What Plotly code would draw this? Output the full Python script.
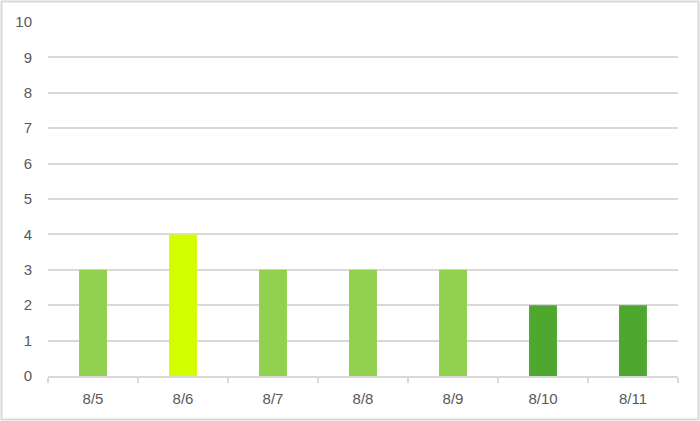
import plotly.graph_objects as go

categories = ["8/5", "8/6", "8/7", "8/8", "8/9", "8/10", "8/11"]
values = [3, 4, 3, 3, 3, 2, 2]
colors = ["#92D050", "#D2FF00", "#92D050", "#92D050", "#92D050", "#4EA72E", "#4EA72E"]
y_ticks = list(range(0, 11))

W, H = 700, 421
L, R, T, B = 48, 22, 22, 45
pw, ph = W - L - R, H - T - B

fig = go.Figure(go.Bar(x=categories, y=values, marker=dict(color=colors, line=dict(width=0)),
                       hoverinfo="x+y"))

fig.update_layout(
    width=W, height=H,
    margin=dict(l=L, r=R, t=T, b=B, pad=0),
    paper_bgcolor="white", plot_bgcolor="white",
    bargap=0.69,
    showlegend=False,
    font=dict(family="Liberation Sans, Arial, sans-serif", size=15, color="#595959"),
    xaxis=dict(showgrid=False, showline=True, linecolor="#D9D9D9", linewidth=1.5,
               ticks="outside", tickson="boundaries", ticklen=5, tickcolor="#D9D9D9",
               tickwidth=1.5, ticklabelstandoff=8, zeroline=False),
    yaxis=dict(range=[0, 10], tickvals=y_ticks, showgrid=True, gridcolor="#D9D9D9",
               gridwidth=1.5, zeroline=False, showline=False, ticks="",
               ticklabelstandoff=15),
    shapes=[dict(type="rect", xref="paper", yref="paper",
                 x0=(1.5 - L) / pw, x1=(W - 1.5 - L) / pw,
                 y0=-(H - 1.5 - T - ph) / ph, y1=(ph + T - 1.5) / ph,
                 line=dict(color="#D9D9D9", width=2), layer="below")],
)

fig.write_html("out.html", config={"displayModeBar": False},
               post_script="document.body.style.margin='0';document.body.style.overflow='hidden';")
